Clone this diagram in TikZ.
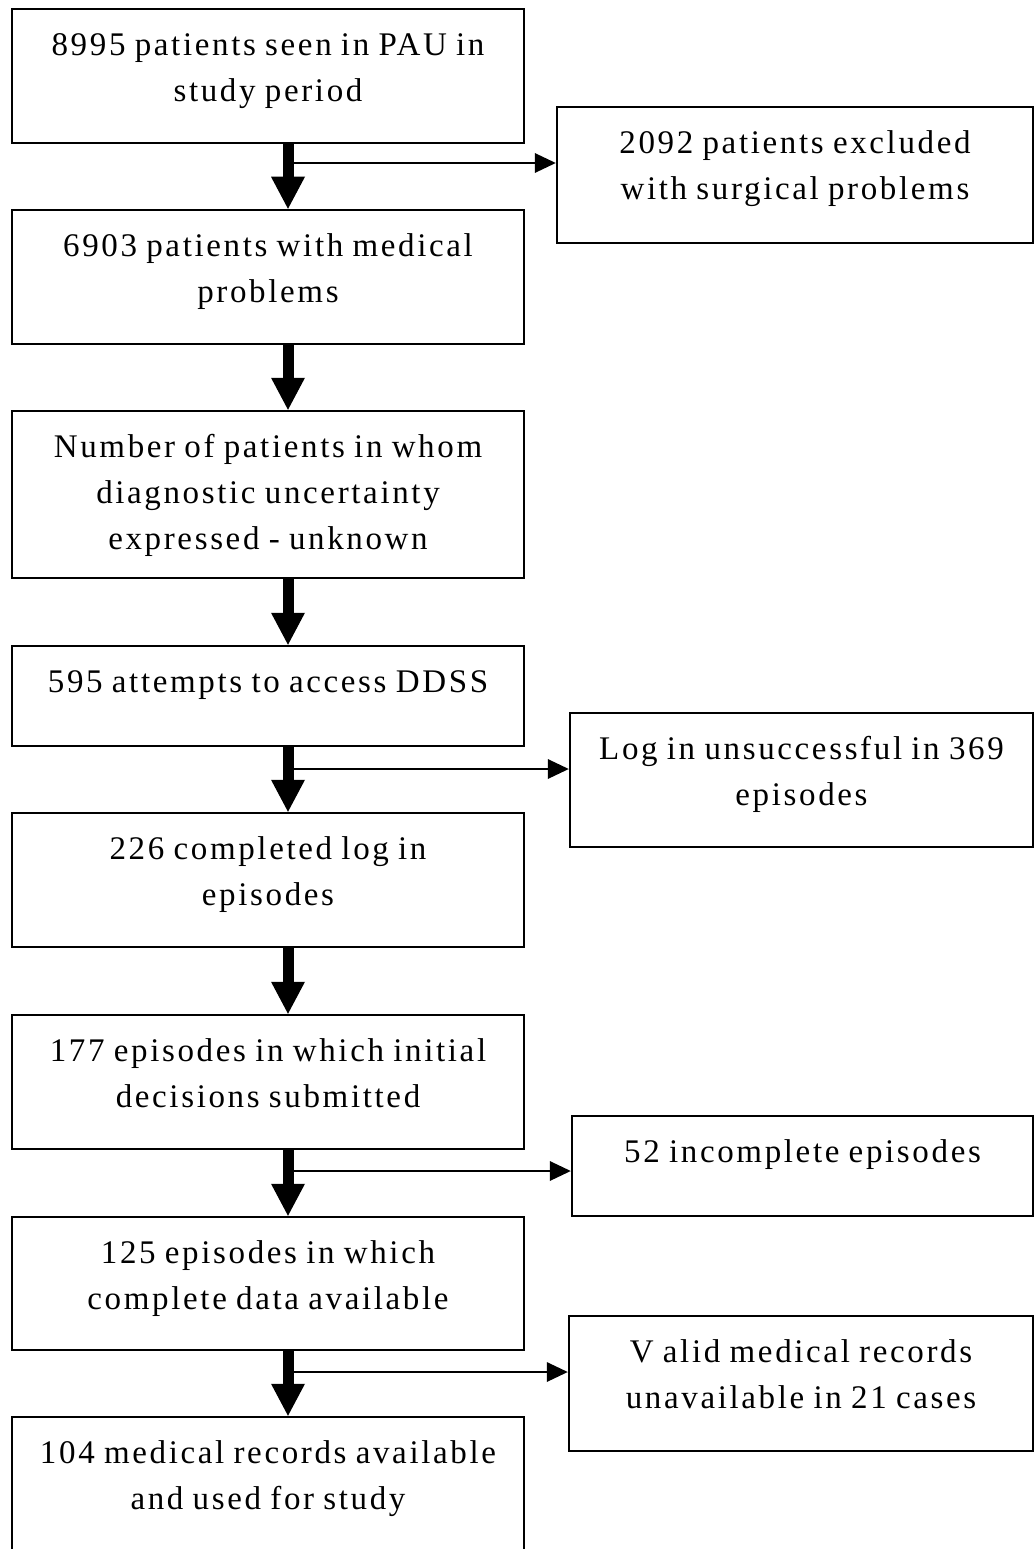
\documentclass[tikz,border=0pt]{standalone}
\usepackage{fontspec}
\setmainfont{Liberation Serif}[LetterSpace=8,WordSpace=0.85]
\usetikzlibrary{arrows.meta}
\newcommand\fstrut{\rule{0pt}{24pt}}
\begin{document}
\begin{tikzpicture}[x=1pt,y=-1pt,
  box/.style={draw=black, line width=2.5pt, inner sep=0pt, fill=white},
  mainbox/.style={box, minimum width=512pt},
  txt/.style={font=\fontsize{33}{46}\selectfont, align=center, inner sep=0pt, anchor=north},
  downarrow/.style={line width=11pt, -{Triangle[length=32pt,width=34pt,line width=0pt]}},
  sidearrow/.style={line width=2.5pt, -{Triangle[length=21pt,width=20pt,line width=0pt]}}
]
\useasboundingbox (0,0) rectangle (1035,1549);
\fill[white] (0,0) rectangle (1035,1549);
\clip (0,0) rectangle (1035,1549);

% main boxes
\node[mainbox, minimum height=134pt] (b1) at (268,76) {};
\node[mainbox, minimum height=134pt] (b2) at (268,277) {};
\node[mainbox, minimum height=167pt] (b3) at (268,494.5) {};
\node[mainbox, minimum height=100pt] (b4) at (268,696) {};
\node[mainbox, minimum height=134pt] (b5) at (268,880) {};
\node[mainbox, minimum height=134pt] (b6) at (268,1082) {};
\node[mainbox, minimum height=133pt] (b7) at (268,1283.5) {};
\node[mainbox, minimum height=183pt] (b8) at (268,1508.5) {};

% side boxes
\node[box, minimum width=476pt, minimum height=136pt] (s1) at (795,175) {};
\node[box, minimum width=463pt, minimum height=134pt] (s2) at (801.5,780) {};
\node[box, minimum width=461pt, minimum height=100pt] (s3) at (802.5,1166) {};
\node[box, minimum width=464pt, minimum height=135pt] (s4) at (801,1383.5) {};

% texts
\node[txt] (t1) at ([yshift=-24pt]b1.north) {\fstrut 8995 patients seen in PAU in\\study period};
\node[txt] (t2) at ([yshift=-24pt]b2.north) {\fstrut 6903 patients with medical\\problems};
\node[txt] (t3) at ([yshift=-24pt]b3.north) {\fstrut Number of patients in whom\\diagnostic uncertainty\\expressed - unknown};
\node[txt] (t4) at ([yshift=-24pt]b4.north) {\fstrut 595 attempts to access DDSS};
\node[txt] (t5) at ([yshift=-24pt]b5.north) {\fstrut 226 completed log in\\episodes};
\node[txt] (t6) at ([yshift=-24pt]b6.north) {\fstrut 177 episodes in which initial\\decisions submitted};
\node[txt] (t7) at ([yshift=-24pt]b7.north) {\fstrut 125 episodes in which\\complete data available};
\node[txt] (t8) at ([yshift=-24pt]b8.north) {\fstrut 104 medical records available\\and used for study};

\node[txt] (u1) at ([yshift=-24pt]s1.north) {\fstrut 2092 patients excluded\\with surgical problems};
\node[txt] (u2) at ([yshift=-24pt]s2.north) {\fstrut Log in unsuccessful in 369\\episodes};
\node[txt] (u3) at ([yshift=-24pt]s3.north) {\fstrut 52 incomplete episodes};
\node[txt] (u4) at ([yshift=-24pt]s4.north) {\fstrut V alid medical records\\unavailable in 21 cases};

% junction coordinates on the down arrows
\coordinate (j1) at (288,163);
\coordinate (j2) at (288,769);
\coordinate (j3) at (288,1171);
\coordinate (j4) at (288,1372);

% side arrows
\draw[sidearrow] (j1) -- (j1 -| s1.west);
\draw[sidearrow] (j2) -- (j2 -| s2.west);
\draw[sidearrow] (j3) -- (j3 -| s3.west);
\draw[sidearrow] (j4) -- (j4 -| s4.west);

% down arrows
\draw[downarrow] ([xshift=20pt]b1.south) -- ([xshift=20pt]b2.north);
\draw[downarrow] ([xshift=20pt]b2.south) -- ([xshift=20pt]b3.north);
\draw[downarrow] ([xshift=20pt]b3.south) -- ([xshift=20pt]b4.north);
\draw[downarrow] ([xshift=20pt]b4.south) -- ([xshift=20pt]b5.north);
\draw[downarrow] ([xshift=20pt]b5.south) -- ([xshift=20pt]b6.north);
\draw[downarrow] ([xshift=20pt]b6.south) -- ([xshift=20pt]b7.north);
\draw[downarrow] ([xshift=20pt]b7.south) -- ([xshift=20pt]b8.north);
\end{tikzpicture}
\end{document}
